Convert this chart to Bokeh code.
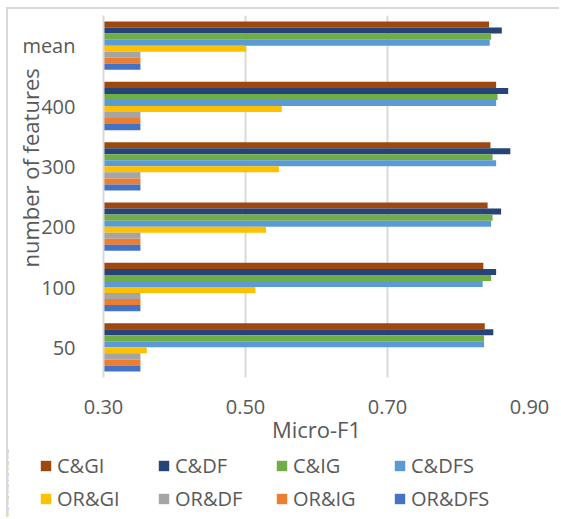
from bokeh.plotting import figure
from bokeh.layouts import column
from bokeh.models import ColumnDataSource, FactorRange, Range1d, FixedTicker, Legend, LegendItem
from bokeh.transform import dodge
from bokeh.embed import file_html
from bokeh.resources import INLINE

categories = ["50", "100", "200", "300", "400", "mean"]
series_names = ["C&GI", "C&DF", "C&IG", "C&DFS", "OR&GI", "OR&DF", "OR&IG", "OR&DFS"]
c_gi = [0.837, 0.835, 0.841, 0.845, 0.853, 0.843]
c_df = [0.849, 0.853, 0.860, 0.873, 0.870, 0.861]
c_ig = [0.836, 0.846, 0.848, 0.848, 0.855, 0.846]
c_dfs = [0.836, 0.834, 0.846, 0.853, 0.853, 0.844]
or_gi = [0.361, 0.514, 0.529, 0.547, 0.551, 0.501]
or_df = [0.352, 0.352, 0.352, 0.352, 0.352, 0.352]
or_ig = [0.352, 0.352, 0.352, 0.352, 0.352, 0.352]
or_dfs = [0.352, 0.352, 0.352, 0.352, 0.352, 0.352]
series_values = [c_gi, c_df, c_ig, c_dfs, or_gi, or_df, or_ig, or_dfs]
colors = ["#9E480E", "#264478", "#70AD47", "#5B9BD5", "#FFC000", "#A5A5A5", "#ED7D31", "#4472C4"]
x_ticks = [0.30, 0.50, 0.70, 0.90]
x_tick_labels = ["0.30", "0.50", "0.70", "0.90"]

FONT = "Open Sans"
TXT = "#595959"
GRID = "#d9d9d9"
BORDER = "2px solid #d9d9d9"

data = {"cat": categories}
for i, vals in enumerate(series_values):
    data[f"s{i}"] = vals
source = ColumnDataSource(data)

p = figure(width=553, height=441, output_backend="svg", toolbar_location=None,
           y_range=FactorRange(factors=categories), x_range=Range1d(0.30, 0.90),
           min_border_left=95, min_border_top=6, min_border_right=32, min_border_bottom=73)
p.outline_line_color = None
p.background_fill_color = "white"
p.border_fill_color = "white"
p.styles = {"border-top": BORDER, "border-left": BORDER}

for i, name in enumerate(series_names):
    off = 0.35 - 0.1 * i
    p.hbar(y=dodge("cat", off, range=p.y_range), left=0.30, right=f"s{i}", height=0.1,
           source=source, fill_color=colors[i], line_color=None)

# axes
p.xaxis.ticker = FixedTicker(ticks=x_ticks)
p.xaxis.major_label_overrides = {t: l for t, l in zip(x_ticks, x_tick_labels)}
p.xaxis.axis_line_color = None
p.xaxis.major_tick_line_color = None
p.xaxis.minor_tick_line_color = None
p.xaxis.major_label_standoff = 16
p.xaxis.major_label_text_font = FONT
p.xaxis.major_label_text_font_size = "20px"
p.xaxis.major_label_text_color = TXT
p.xaxis.axis_label = "Micro-F1"
p.xaxis.axis_label_text_font = FONT
p.xaxis.axis_label_text_font_size = "22px"
p.xaxis.axis_label_text_font_style = "normal"
p.xaxis.axis_label_text_color = TXT
p.xaxis.axis_label_standoff = -3

p.yaxis.axis_line_color = GRID
p.yaxis.axis_line_width = 2
p.yaxis.major_tick_line_color = None
p.yaxis.minor_tick_line_color = None
p.yaxis.major_label_standoff = 22
p.yaxis.major_label_text_font = FONT
p.yaxis.major_label_text_font_size = "20px"
p.yaxis.major_label_text_color = TXT
# leading no-break spaces lift the rotated title above the frame centre, as in the reference
p.yaxis.axis_label = "\u00a0" * 10 + "number of features"
p.yaxis.axis_label_text_font = FONT
p.yaxis.axis_label_text_font_size = "22px"
p.yaxis.axis_label_text_font_style = "normal"
p.yaxis.axis_label_text_color = TXT
p.yaxis.axis_label_standoff = -26

p.xgrid.grid_line_color = GRID
p.xgrid.grid_line_width = 2
p.ygrid.grid_line_color = None

# legend strip (its renderers sit outside its visible x range)
p2 = figure(width=553, height=69, output_backend="svg", toolbar_location=None,
            y_range=FactorRange(factors=categories), x_range=Range1d(10, 11),
            x_axis_location=None, y_axis_location=None, min_border=0)
p2.grid.grid_line_color = None
p2.outline_line_color = None
p2.background_fill_color = "white"
p2.border_fill_color = "white"
p2.styles = {"border-left": BORDER}
for fig in (p, p2):
    if "frame_align" in fig.properties():
        fig.frame_align = False

items = []
for i, name in enumerate(series_names):
    off = 0.35 - 0.1 * i
    r = p2.hbar(y=dodge("cat", off, range=p2.y_range), left=0.30, right=f"s{i}", height=0.1,
                source=source, fill_color=colors[i], line_color=None)
    items.append(LegendItem(label=name, renderers=[r]))

legend = Legend(items=items, location=(31, 2), orientation="horizontal", ncols=4,
                label_width=100, label_height=33, glyph_width=13, glyph_height=13,
                label_standoff=5, spacing=0, padding=0, margin=0,
                border_line_color=None, background_fill_alpha=0,
                label_text_font=FONT, label_text_font_size="20px", label_text_color=TXT)
p2.add_layout(legend, "center")

layout = column(p, p2, spacing=0, styles={"margin-left": "6px", "margin-top": "7px"})

open("out.html", "w").write(file_html(layout, INLINE))
